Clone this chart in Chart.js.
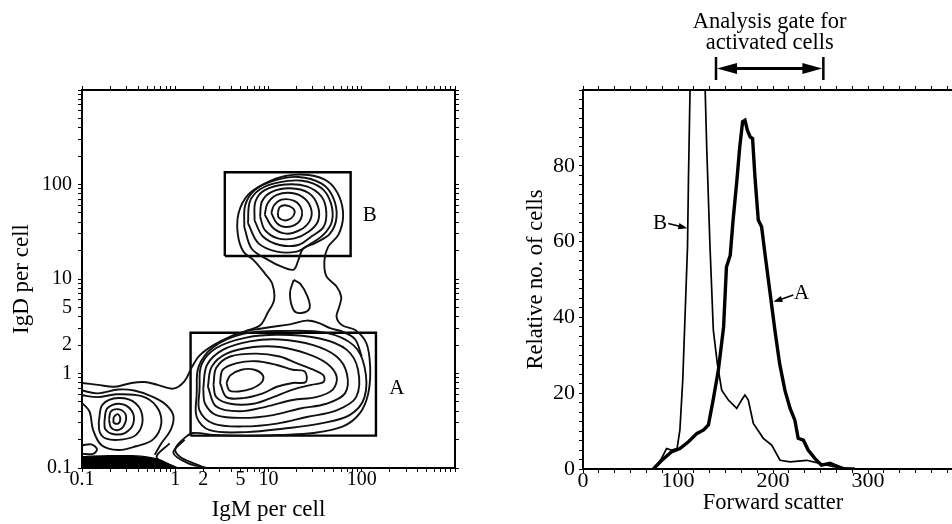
<!DOCTYPE html>
<html>
<head>
<meta charset="utf-8">
<title>IgM / IgD gates and forward scatter</title>
<script src="https://cdn.jsdelivr.net/npm/chart.js@4.4.1/dist/chart.umd.min.js"></script>
<style>
  html, body { margin: 0; padding: 0; background: #fff; overflow: hidden; }
  body { width: 952px; height: 524px; position: relative; }
  #gate-wrap { position: absolute; left: 0; top: 0; width: 480px; height: 524px; }
  #fsc-wrap { position: absolute; left: 476px; top: 0; width: 520px; height: 524px; }
</style>
</head>
<body>
<div id="gate-wrap"><canvas id="gate-chart"></canvas></div>
<div id="fsc-wrap"><canvas id="fsc-chart"></canvas></div>
<script>
// ---------- left panel: IgM vs IgD contour plot ----------
const igmTickLabels = [0.1, 1, 2, 5, 10, 100];
const igdTickLabels = [0.1, 1, 2, 5, 10, 100];

// gate rectangles [low, high]
const gateAIgM = [1.46, 142];
const gateAIgD = [0.22, 2.7];
const gateBIgM = [3.4, 76];
const gateBIgD = [17.5, 135];
const gateNames = ['A', 'B'];
const gateLabelIgM = [238, 122];
const gateLabelIgD = [0.70, 47];

// contour lines as [log10 IgM, log10 IgD]
const ringB1 = [[1.10,1.70],[1.12,1.76],[1.18,1.78],[1.26,1.75],[1.28,1.70],[1.24,1.64],[1.17,1.62],[1.11,1.65]];
const ringB2 = [[1.03,1.70],[1.06,1.78],[1.14,1.84],[1.27,1.83],[1.34,1.77],[1.36,1.68],[1.31,1.59],[1.19,1.55],[1.09,1.59]];
const ringB3 = [[0.96,1.68],[0.99,1.80],[1.09,1.89],[1.25,1.91],[1.39,1.85],[1.46,1.73],[1.44,1.61],[1.34,1.52],[1.19,1.48],[1.05,1.54]];
const ringB4 = [[0.91,1.66],[0.93,1.82],[1.03,1.92],[1.23,1.96],[1.43,1.91],[1.53,1.77],[1.53,1.61],[1.43,1.50],[1.28,1.43],[1.10,1.43],[0.96,1.52]];
const ringB5 = [[0.85,1.62],[0.86,1.82],[0.96,1.94],[1.18,2.00],[1.41,1.98],[1.57,1.87],[1.62,1.71],[1.59,1.55],[1.46,1.45],[1.32,1.36],[1.12,1.36],[0.94,1.45]];
const ringB6 = [[0.78,1.59],[0.80,1.82],[0.91,1.95],[1.10,2.02],[1.36,2.04],[1.57,1.96],[1.67,1.80],[1.68,1.61],[1.59,1.47],[1.43,1.36],[1.30,1.29],[1.09,1.29],[0.89,1.38]];
const ringB7 = [[0.74,1.55],[0.75,1.78],[0.85,1.94],[1.05,2.04],[1.32,2.08],[1.57,2.01],[1.69,1.87],[1.73,1.66],[1.66,1.48],[1.50,1.38],[1.37,1.32],[1.32,1.20],[1.27,1.10],[1.14,1.13],[1.00,1.20],[0.82,1.32]];

const ringA1 = [[0.55,-0.10],[0.59,-0.02],[0.71,0.04],[0.85,0.04],[0.94,-0.02],[0.93,-0.09],[0.82,-0.16],[0.68,-0.19],[0.58,-0.18]];
const ringA2 = [[0.48,-0.10],[0.51,0.04],[0.66,0.11],[0.87,0.13],[1.09,0.09],[1.26,0.04],[1.39,0.02],[1.40,-0.09],[1.26,-0.10],[1.09,-0.14],[0.94,-0.21],[0.73,-0.26],[0.55,-0.25]];
const ringA3 = [[0.41,-0.12],[0.44,0.06],[0.59,0.18],[0.87,0.21],[1.12,0.18],[1.30,0.11],[1.48,0.04],[1.59,-0.02],[1.59,-0.09],[1.46,-0.12],[1.26,-0.17],[1.05,-0.25],[0.84,-0.32],[0.59,-0.32],[0.44,-0.25]];
const ringA4 = [[0.35,-0.14],[0.39,0.07],[0.55,0.21],[0.84,0.28],[1.12,0.28],[1.41,0.21],[1.62,0.11],[1.73,-0.03],[1.69,-0.17],[1.51,-0.25],[1.26,-0.28],[0.98,-0.35],[0.69,-0.40],[0.44,-0.35]];
const ringA5 = [[0.30,-0.16],[0.34,0.09],[0.51,0.25],[0.80,0.34],[1.12,0.36],[1.48,0.30],[1.73,0.18],[1.84,0.00],[1.82,-0.21],[1.62,-0.32],[1.34,-0.37],[1.05,-0.44],[0.73,-0.47],[0.44,-0.44],[0.32,-0.32]];
const ringA6 = [[0.26,-0.17],[0.28,0.09],[0.44,0.27],[0.76,0.38],[1.12,0.41],[1.55,0.37],[1.84,0.25],[1.96,0.04],[1.94,-0.25],[1.73,-0.39],[1.41,-0.46],[1.09,-0.53],[0.73,-0.56],[0.41,-0.53],[0.26,-0.39]];
const ringA7 = [[0.23,-0.21],[0.25,0.07],[0.41,0.28],[0.73,0.42],[1.16,0.45],[1.62,0.43],[1.91,0.30],[2.03,0.07],[2.03,-0.25],[1.87,-0.44],[1.55,-0.53],[1.19,-0.58],[0.76,-0.62],[0.37,-0.60],[0.23,-0.46]];

const ringL1 = [[-0.66,-0.46],[-0.62,-0.43],[-0.59,-0.47],[-0.61,-0.53],[-0.66,-0.52]];
const ringL2 = [[-0.71,-0.49],[-0.69,-0.40],[-0.60,-0.38],[-0.53,-0.44],[-0.55,-0.55],[-0.62,-0.60],[-0.69,-0.57]];
const ringL3 = [[-0.76,-0.51],[-0.73,-0.37],[-0.60,-0.32],[-0.47,-0.39],[-0.45,-0.53],[-0.54,-0.63],[-0.67,-0.64],[-0.75,-0.59]];
const ringL4 = [[-0.82,-0.51],[-0.78,-0.33],[-0.61,-0.26],[-0.42,-0.32],[-0.35,-0.49],[-0.42,-0.65],[-0.58,-0.70],[-0.74,-0.69],[-0.81,-0.62]];
const islandMid = [[1.27,0.99],[1.23,0.85],[1.27,0.67],[1.35,0.64],[1.44,0.69],[1.42,0.81],[1.34,0.95]];
const loopLow = [[-1.0,-0.76],[-0.90,-0.75],[-0.84,-0.80],[-0.88,-0.85],[-1.0,-0.85]];

const outerContour = [[-1.00,-0.10],[-0.83,-0.12],[-0.65,-0.14],[-0.47,-0.10],[-0.33,-0.09],[-0.19,-0.12],[-0.02,-0.16],[0.10,-0.08],
  [0.18,0.07],[0.26,0.19],[0.41,0.30],[0.59,0.39],[0.76,0.45],[0.91,0.51],[0.99,0.64],[1.06,0.78],[1.04,0.95],[0.96,1.06],
  [0.84,1.20],[0.73,1.29],[0.67,1.48],[0.68,1.70],[0.78,1.89],[0.96,2.01],[1.18,2.09],[1.43,2.10],[1.64,2.03],[1.76,1.87],
  [1.80,1.66],[1.75,1.47],[1.64,1.34],[1.60,1.20],[1.62,1.03],[1.73,0.92],[1.78,0.81],[1.76,0.71],[1.73,0.60],[1.79,0.51],
  [1.93,0.46],[2.05,0.32],[2.09,0.07],[2.07,-0.21],[1.98,-0.42],[1.80,-0.56],[1.48,-0.63],[1.12,-0.65],[0.76,-0.66],
  [0.41,-0.65],[0.19,-0.63],[0.08,-0.70],[0.00,-0.80],[0.05,-0.88],[0.22,-0.96],[0.32,-1.00]];
const bridgeContour = [[0.76,0.45],[1.01,0.49],[1.23,0.52],[1.41,0.56],[1.55,0.53],[1.66,0.48],[1.80,0.44],[1.93,0.36],[2.00,0.18]];
const leftContour2 = [[-1.0,-0.18],[-0.83,-0.21],[-0.61,-0.17],[-0.44,-0.18],[-0.26,-0.24],[-0.10,-0.33],[-0.02,-0.45],[-0.05,-0.60],[-0.15,-0.74],[-0.22,-0.86]];
const leftContour3 = [[-1.0,-0.23],[-0.83,-0.25],[-0.63,-0.22],[-0.36,-0.24],[-0.20,-0.35],[-0.15,-0.53],[-0.24,-0.70],[-0.42,-0.77],[-0.61,-0.81],[-0.79,-0.76],[-0.88,-0.60],[-0.92,-0.40],[-1.0,-0.31]];
const lowDiagonal1 = [[0.10,-0.70],[-0.02,-0.84],[0.14,-0.95],[0.34,-1.0]];
const lowDiagonal2 = [[-0.06,-0.74],[-0.20,-0.88],[-0.10,-0.96],[-0.02,-1.0]];

// dense band of contours along the bottom edge, with its small empty pocket
const bottomBand = [[-1.0,-0.88],[-0.90,-0.875],[-0.69,-0.87],[-0.47,-0.87],[-0.29,-0.885],[-0.15,-0.92],[-0.04,-0.97],[0.03,-1.0]];
const pocketTop = [[-0.78,-0.975],[-0.68,-0.948],[-0.55,-0.942],[-0.44,-0.952],[-0.36,-0.975]];
const pocketBottom = [[-0.78,-0.975],[-0.68,-0.988],[-0.55,-0.99],[-0.44,-0.987],[-0.36,-0.975]];

// ---------- right panel: forward scatter histograms ----------
const fscTickLabels = [0, 100, 200, 300];
const cellTickLabels = [0, 20, 40, 60, 80];

const fscA = [74, 83, 93, 102, 111, 120, 127, 132, 137, 142.5, 148, 151, 155, 158, 162, 165, 168, 170.5, 173, 176, 178.5, 181, 184.5, 188, 191.5, 197, 202, 207, 212.5, 218, 223, 226.5, 232, 237, 244, 251, 260, 265, 274, 286];
const cellsA = [0, 2.3, 4.5, 5.4, 7.2, 9.4, 10.3, 11.6, 18.2, 26.1, 37.5, 53.3, 56.4, 65.7, 76.2, 85, 91.6, 92, 89.4, 87.6, 87.2, 77.1, 65.7, 63.9, 56.9, 46.3, 36.6, 27.8, 20.8, 16, 12.9, 8.1, 7.6, 5, 2.8, 1, 1.5, 1, 0.1, 0];
const fscB = [74, 82, 88, 93, 99, 102, 105, 107.5, 110, 111, 112.6, 113.5, 129, 128.6, 130.2, 133.7, 137.2, 141.4, 146, 153, 161.8, 167, 170.5, 174, 179.3, 189.8, 198.6, 207.4, 218, 235.4, 249.5, 263.5, 284.6];
const cellsB = [0, 2.5, 5.4, 5, 5.4, 10.3, 23.4, 41, 58.6, 76.2, 99, 140, 140, 100, 85, 58.6, 36.6, 27.8, 20.8, 18.2, 16, 18.2, 19.5, 18.2, 12, 8.1, 6.3, 2.3, 1.9, 2.3, 1.5, 0.6, 0];

const analysisGate = [140, 253];
const gateTitle = ['Analysis gate for', 'activated cells'];
const curveNames = ['A', 'B'];
const curveLabelAt = [[230, 46.3], [81, 64.8]];
const curveArrowFrom = [[221.4, 45.9], [89.8, 64.8]];
const curveArrowTo = [[200.4, 44.1], [109.8, 63.5]];

// ---------- helpers ----------
const serif = '"Liberation Serif", "Times New Roman", serif';
Chart.defaults.font.family = serif;
Chart.defaults.color = '#000';

function fromLog(points, close) {
  const pts = points.map(([lx, ly]) => ({ x: 10 ** lx, y: 10 ** ly }));
  if (close) pts.push(pts[0]);
  return pts;
}

function boxPoints(xr, yr) {
  return [
    { x: xr[0], y: yr[0] }, { x: xr[1], y: yr[0] },
    { x: xr[1], y: yr[1] }, { x: xr[0], y: yr[1] }, { x: xr[0], y: yr[0] }
  ];
}

function contourSet(points, close, width) {
  return {
    data: fromLog(points, close),
    showLine: true,
    borderColor: '#111',
    borderWidth: width || 1.9,
    pointRadius: 0,
    tension: 0.35,
    fill: false
  };
}

function filledEdge(points, color) {
  return {
    data: fromLog(points, false),
    showLine: true, borderColor: color, borderWidth: 1.2, pointRadius: 0,
    tension: 0.3, fill: 'start', backgroundColor: color
  };
}

function labelFor(value, labels) {
  const hit = labels.find(l => Math.abs(l - value) <= Math.abs(l) * 1e-6 + 1e-9);
  return hit === undefined ? '' : String(hit);
}

function arrowHead(ctx, x, y, angle, len, half) {
  ctx.beginPath();
  ctx.moveTo(x, y);
  ctx.lineTo(x - len * Math.cos(angle) + half * Math.sin(angle), y - len * Math.sin(angle) - half * Math.cos(angle));
  ctx.lineTo(x - len * Math.cos(angle) - half * Math.sin(angle), y - len * Math.sin(angle) + half * Math.cos(angle));
  ctx.closePath();
  ctx.fill();
}

// forces the chart area to sit where the figure's frame is
function fixSize(size) {
  return scale => {
    if (scale.isHorizontal()) scale.height = size; else scale.width = size;
    scale.paddingLeft = scale.paddingRight = scale.paddingTop = scale.paddingBottom = 0;
  };
}

function axisBase(position, size) {
  return {
    position,
    border: { display: true, color: '#000', width: 2 },
    grid: { display: true, drawOnChartArea: false, drawTicks: true, tickLength: 4, color: '#000', lineWidth: 1 },
    afterFit: fixSize(size)
  };
}

// ---------- left chart ----------
function decadeTicks(scale) {
  const ticks = [];
  for (let e = -1; e < 3; e++) {
    for (let m = 1; m < 10; m++) ticks.push({ value: m * 10 ** e });
  }
  ticks.push({ value: 1000 });
  scale.ticks = ticks;
}

function logAxis(position, size, labels, title, titlePad) {
  const axis = axisBase(position, size);
  Object.assign(axis, {
    type: 'logarithmic',
    min: 0.1,
    max: 1000,
    afterBuildTicks: decadeTicks,
    ticks: {
      display: !!labels,
      autoSkip: false,
      maxRotation: 0,
      minRotation: 0,
      padding: position === 'left' ? 6 : -4,
      font: { size: 20 },
      color: '#000',
      callback: v => labels ? labelFor(v, labels) : ''
    }
  });
  if (title) {
    axis.title = { display: true, text: title, color: '#000', font: { size: 23 }, padding: titlePad };
  }
  return axis;
}

const gateLabels = {
  id: 'gateLabels',
  afterDatasetsDraw(chart) {
    const { ctx, scales: { x, y } } = chart;
    ctx.save();
    ctx.fillStyle = '#000';
    ctx.font = '21px ' + serif;
    ctx.textAlign = 'center';
    ctx.textBaseline = 'middle';
    gateNames.forEach((name, i) => {
      ctx.fillText(name, x.getPixelForValue(gateLabelIgM[i]), y.getPixelForValue(gateLabelIgD[i]));
    });
    ctx.restore();
  }
};

const closedRings = [ringB1, ringB2, ringB3, ringB4, ringB5, ringB6, ringB7,
  ringA1, ringA2, ringA3, ringA4, ringA5, ringA6, ringA7,
  ringL1, ringL2, ringL3, ringL4, islandMid];
const openLines = [outerContour, bridgeContour, leftContour2, leftContour3, lowDiagonal1, lowDiagonal2, loopLow];

const gateDatasets = [
  filledEdge(bottomBand, '#000'),
  filledEdge(pocketTop, '#fff'),
  filledEdge(pocketBottom, '#000'),
  ...closedRings.map(r => contourSet(r, true)),
  ...openLines.map(r => contourSet(r, false)),
  { data: boxPoints(gateAIgM, gateAIgD), showLine: true, borderColor: '#000', borderWidth: 2.4, pointRadius: 0, tension: 0 },
  { data: boxPoints(gateBIgM, gateBIgD), showLine: true, borderColor: '#000', borderWidth: 2.4, pointRadius: 0, tension: 0 }
];

new Chart(document.getElementById('gate-chart'), {
  type: 'scatter',
  data: { datasets: gateDatasets },
  options: {
    responsive: true,
    maintainAspectRatio: false,
    animation: false,
    events: [],
    layout: { padding: 0 },
    plugins: { legend: { display: false }, tooltip: { enabled: false } },
    scales: {
      x: logAxis('bottom', 56, igmTickLabels, 'IgM per cell', { top: 0, bottom: 0 }),
      x2: logAxis('top', 90, null),
      y: logAxis('left', 82, igdTickLabels, 'IgD per cell', { top: 8, bottom: 0 }),
      y2: logAxis('right', 25, null)
    }
  },
  plugins: [gateLabels]
});

// ---------- right chart ----------
function stepTicks(max, step) {
  return scale => {
    const ticks = [];
    for (let i = 0; i * step <= max + 1e-6; i++) ticks.push({ value: i * step });
    scale.ticks = ticks;
  };
}

function linAxis(position, size, max, step, labels, title, titlePad) {
  const axis = axisBase(position, size);
  Object.assign(axis, {
    type: 'linear',
    min: 0,
    max,
    afterBuildTicks: stepTicks(max, step),
    ticks: {
      display: !!labels,
      autoSkip: false,
      maxRotation: 0,
      minRotation: 0,
      padding: position === 'left' ? 4 : -5,
      font: { size: 22 },
      color: '#000',
      callback: v => labels ? labelFor(v, labels) : ''
    }
  });
  if (title) {
    axis.title = { display: true, text: title, color: '#000', font: { size: 22.5 }, padding: titlePad };
  }
  return axis;
}

const gateHeader = {
  id: 'gateHeader',
  afterDatasetsDraw(chart) {
    const { ctx, scales: { x, y } } = chart;
    const gx0 = x.getPixelForValue(analysisGate[0]);
    const gx1 = x.getPixelForValue(analysisGate[1]);
    const mid = (gx0 + gx1) / 2;
    ctx.save();
    ctx.fillStyle = '#000';
    ctx.strokeStyle = '#000';
    ctx.font = '22.5px ' + serif;
    ctx.textAlign = 'center';
    ctx.textBaseline = 'middle';
    ctx.fillText(gateTitle[0], mid, 22);
    ctx.fillText(gateTitle[1], mid, 43);

    // gate end bars and double arrow
    ctx.lineWidth = 2.5;
    ctx.beginPath();
    ctx.moveTo(gx0, 57); ctx.lineTo(gx0, 80);
    ctx.moveTo(gx1, 57); ctx.lineTo(gx1, 80);
    ctx.stroke();
    ctx.lineWidth = 3;
    ctx.beginPath();
    ctx.moveTo(gx0 + 15, 68.5); ctx.lineTo(gx1 - 15, 68.5);
    ctx.stroke();
    arrowHead(ctx, gx0 + 1, 68.5, Math.PI, 20, 5.5);
    arrowHead(ctx, gx1 - 1, 68.5, 0, 20, 5.5);

    // curve labels with small arrows
    ctx.font = '21px ' + serif;
    curveNames.forEach((name, i) => {
      ctx.fillText(name, x.getPixelForValue(curveLabelAt[i][0]), y.getPixelForValue(curveLabelAt[i][1]));
      const x0 = x.getPixelForValue(curveArrowFrom[i][0]);
      const y0 = y.getPixelForValue(curveArrowFrom[i][1]);
      const x1 = x.getPixelForValue(curveArrowTo[i][0]);
      const y1 = y.getPixelForValue(curveArrowTo[i][1]);
      const a = Math.atan2(y1 - y0, x1 - x0);
      ctx.lineWidth = 1.6;
      ctx.beginPath();
      ctx.moveTo(x0, y0);
      ctx.lineTo(x1 - 6 * Math.cos(a), y1 - 6 * Math.sin(a));
      ctx.stroke();
      arrowHead(ctx, x1, y1, a, 9, 3.2);
    });
    ctx.restore();
  }
};

new Chart(document.getElementById('fsc-chart'), {
  type: 'scatter',
  data: {
    datasets: [
      {
        label: 'B',
        data: fscB.map((v, i) => ({ x: v, y: cellsB[i] })),
        showLine: true, borderColor: '#000', borderWidth: 1.7, pointRadius: 0, tension: 0
      },
      {
        label: 'A',
        data: fscA.map((v, i) => ({ x: v, y: cellsA[i] })),
        showLine: true, borderColor: '#000', borderWidth: 3.4, pointRadius: 0, tension: 0
      }
    ]
  },
  options: {
    responsive: true,
    maintainAspectRatio: false,
    animation: false,
    events: [],
    layout: { padding: 0 },
    plugins: { legend: { display: false }, tooltip: { enabled: false } },
    scales: {
      x: linAxis('bottom', 55, 400, 100 / 6, fscTickLabels, 'Forward scatter', { top: 0, bottom: 7 }),
      x2: linAxis('top', 90, 400, 100 / 6, null),
      y: linAxis('left', 107, 100, 2.5, cellTickLabels, 'Relative no. of cells', { top: 47, bottom: 0 }),
      y2: linAxis('right', 33, 100, 2.5, null)
    }
  },
  plugins: [gateHeader]
});
</script>
</body>
</html>
